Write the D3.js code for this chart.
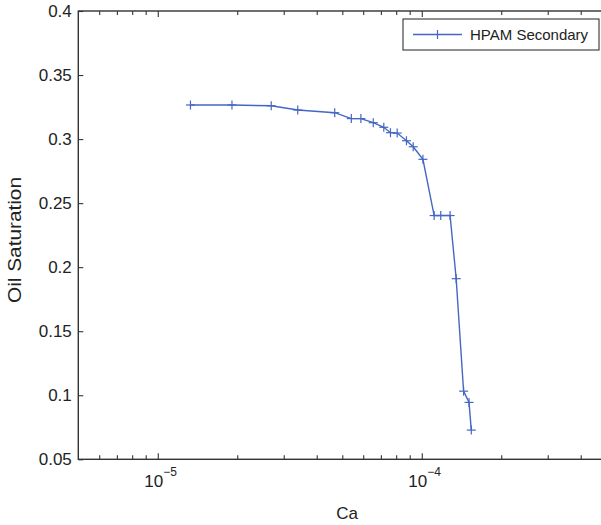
<!DOCTYPE html>
<html>
<head>
<meta charset="utf-8">
<script src="https://cdn.jsdelivr.net/npm/d3@7"></script>
<style>
  html, body { margin: 0; padding: 0; background: #fff; overflow: hidden; }
  svg { display: block; }
  text { font-family: "Liberation Sans", Arial, sans-serif; fill: #222; }
</style>
</head>
<body>
<svg id="chart" width="601" height="525"></svg>
<script>
// ---- data ----
const caValues = [1.33e-5, 1.91e-5, 2.69e-5, 3.39e-5, 4.68e-5, 5.41e-5, 5.88e-5, 6.55e-5, 7.18e-5, 7.61e-5,
                  8.07e-5, 8.75e-5, 9.28e-5, 1.01e-4, 1.114e-4, 1.18e-4, 1.28e-4, 1.35e-4, 1.44e-4, 1.51e-4, 1.54e-4];
const oilSaturation = [0.3266, 0.3266, 0.326, 0.3227, 0.3206, 0.316, 0.316, 0.3128, 0.3092, 0.305,
                       0.3047, 0.2987, 0.294, 0.2842, 0.2403, 0.2403, 0.2403, 0.191, 0.1032, 0.0944, 0.0728];
const seriesName = "HPAM Secondary";
const xMajorTicks = [1e-5, 1e-4];
const xMajorExponents = ["\u22125", "\u22124"];
const xMinorTicks = [6e-6, 7e-6, 8e-6, 9e-6, 2e-5, 3e-5, 4e-5, 5e-5, 6e-5, 7e-5, 8e-5, 9e-5, 2e-4, 3e-4, 4e-4];
const yTicks = [0.05, 0.1, 0.15, 0.2, 0.25, 0.3, 0.35, 0.4];
const yTickLabels = ["0.05", "0.1", "0.15", "0.2", "0.25", "0.3", "0.35", "0.4"];
const xLabel = "Ca";
const yLabel = "Oil Saturation";

(function () {
// ---- layout ----
const svg = d3.select("#chart");
const pLeft = 78.3, pRight = 606.3, pTop = 11, pBottom = 459.3;
const lineColor = "#4466c4";
const axisColor = "#333";

const x = d3.scaleLog().domain([5e-6, 5e-4]).range([pLeft, pRight]);
const y = d3.scaleLinear().domain([0.05, 0.4]).range([pBottom, pTop]);

function styleAxis(g) {
  g.select(".domain").remove();
  g.selectAll(".tick line").attr("stroke", axisColor).attr("stroke-width", 1.1);
  g.selectAll(".tick text").remove();
}

// major/minor x ticks (bottom & top, inward)
svg.append("g").attr("transform", `translate(0,${pBottom})`)
  .call(d3.axisBottom(x).tickValues(xMajorTicks).tickSize(-6).tickFormat(""))
  .call(styleAxis);
svg.append("g").attr("transform", `translate(0,${pBottom})`)
  .call(d3.axisBottom(x).tickValues(xMinorTicks).tickSize(-4).tickFormat(""))
  .call(styleAxis);
svg.append("g").attr("transform", `translate(0,${pTop})`)
  .call(d3.axisTop(x).tickValues(xMajorTicks).tickSize(-6).tickFormat(""))
  .call(styleAxis);
svg.append("g").attr("transform", `translate(0,${pTop})`)
  .call(d3.axisTop(x).tickValues(xMinorTicks).tickSize(-4).tickFormat(""))
  .call(styleAxis);
// y ticks (left & right, inward)
svg.append("g").attr("transform", `translate(${pLeft},0)`)
  .call(d3.axisLeft(y).tickValues(yTicks).tickSize(-5).tickFormat(""))
  .call(styleAxis);
svg.append("g").attr("transform", `translate(${pRight},0)`)
  .call(d3.axisRight(y).tickValues(yTicks).tickSize(-5).tickFormat(""))
  .call(styleAxis);

// frame
svg.append("rect")
  .attr("x", pLeft).attr("y", pTop)
  .attr("width", pRight - pLeft).attr("height", pBottom - pTop)
  .attr("fill", "none").attr("stroke", axisColor).attr("stroke-width", 1.4);

// y tick labels
svg.append("g").selectAll("text").data(yTicks).join("text")
  .attr("x", pLeft - 6.5)
  .attr("y", d => y(d))
  .attr("dy", "0.36em")
  .attr("text-anchor", "end")
  .attr("font-size", 17)
  .text((d, i) => yTickLabels[i]);

// x tick labels with superscripts
const xl = svg.append("g").selectAll("text").data(xMajorTicks).join("text")
  .attr("x", d => x(d) - 13.5)
  .attr("y", 487.3)
  .attr("text-anchor", "start")
  .attr("font-size", 17);
xl.append("tspan").text("10");
xl.append("tspan").attr("dy", -11).attr("font-size", 12).text((d, i) => xMajorExponents[i]);

// axis titles
svg.append("text")
  .attr("x", 347).attr("y", 519.3)
  .attr("text-anchor", "middle")
  .attr("font-size", 17)
  .text(xLabel);
svg.append("text")
  .attr("transform", `translate(21,240) rotate(-90)`)
  .attr("text-anchor", "middle")
  .attr("font-size", 18)
  .attr("textLength", 126)
  .attr("lengthAdjust", "spacingAndGlyphs")
  .text(yLabel);

// series line
const line = d3.line().x((d, i) => x(caValues[i])).y((d, i) => y(oilSaturation[i]));
svg.append("path")
  .datum(oilSaturation)
  .attr("d", line)
  .attr("fill", "none")
  .attr("stroke", lineColor)
  .attr("stroke-width", 1.4);

// plus markers
const arm = 4.5;
const mk = svg.append("g").selectAll("g").data(oilSaturation).join("g")
  .attr("transform", (d, i) => `translate(${x(caValues[i])},${y(d)})`);
mk.append("line").attr("x1", -arm).attr("x2", arm).attr("y1", 0).attr("y2", 0)
  .attr("stroke", lineColor).attr("stroke-width", 1.2);
mk.append("line").attr("x1", 0).attr("x2", 0).attr("y1", -arm).attr("y2", arm)
  .attr("stroke", lineColor).attr("stroke-width", 1.2);

// legend
const lg = svg.append("g");
lg.append("rect").attr("x", 403).attr("y", 19).attr("width", 196).attr("height", 31)
  .attr("fill", "#fff").attr("stroke", axisColor).attr("stroke-width", 1.1);
lg.append("line").attr("x1", 413).attr("x2", 462).attr("y1", 34.5).attr("y2", 34.5)
  .attr("stroke", lineColor).attr("stroke-width", 1.4);
lg.append("line").attr("x1", 437.5).attr("x2", 437.5).attr("y1", 30).attr("y2", 39)
  .attr("stroke", lineColor).attr("stroke-width", 1.2);
lg.append("text").attr("x", 470).attr("y", 39.8).attr("font-size", 15).text(seriesName);
})();
</script>
</body>
</html>
